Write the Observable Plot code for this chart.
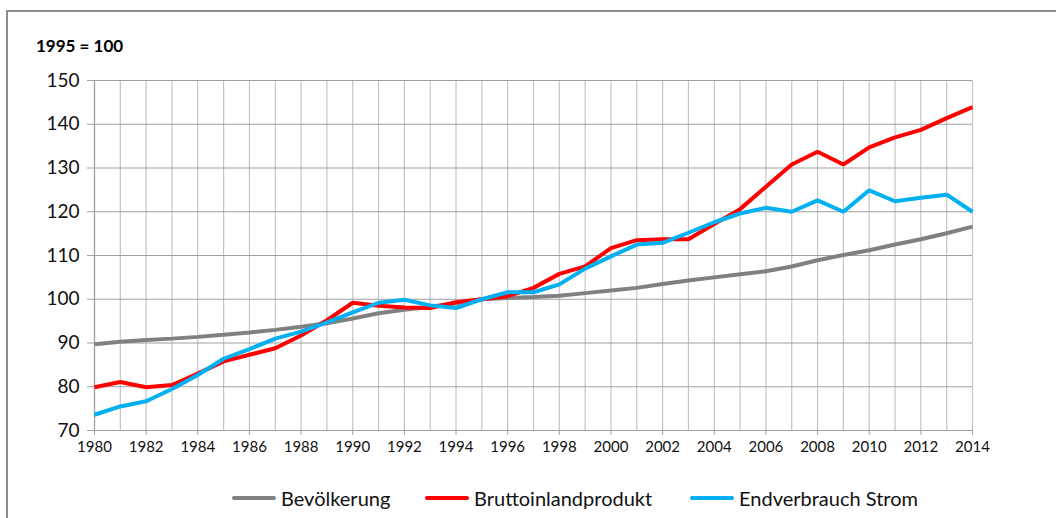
<!DOCTYPE html>
<html>
<head>
<meta charset="utf-8">
<script src="https://cdn.jsdelivr.net/npm/d3@7"></script>
<script src="https://cdn.jsdelivr.net/npm/@observablehq/plot@0.6"></script>
<style>
  html, body { margin: 0; padding: 0; background: #fff; }
  #wrap { position: relative; width: 1056px; height: 518px; overflow: hidden; font-family: Lato, "Open Sans", sans-serif; }
  #frame { position: absolute; left: 6px; top: 10px; width: 1200px; height: 700px; border: 2px solid #8c8c8c; box-sizing: border-box; }
  #title { position: absolute; left: 36px; top: 35px; font-size: 17px; font-weight: bold; color: #000; }
  #chart { position: absolute; left: 0; top: 60px; }
  #legend { position: absolute; top: 486px; left: 0; width: 1056px; height: 26px; font-size: 20px; color: #111; }
  .item { position: absolute; display: flex; align-items: center; }
  .sw { width: 44px; height: 4px; margin-right: 5px; border-radius: 2px; }
</style>
</head>
<body>
<div id="wrap">
  <div id="frame"></div>
  <div id="title">1995 = 100</div>
  <div id="chart"></div>
  <div id="legend"></div>
</div>
<script>
const years = d3.range(1980, 2015);
const yTicks = [70, 80, 90, 100, 110, 120, 130, 140, 150];
const xTicks = d3.range(1980, 2015, 2);
const seriesNames = ["Bevölkerung", "Bruttoinlandprodukt", "Endverbrauch Strom"];
const seriesColors = ["#808080", "#ff0000", "#00b0f0"];

const bevoelkerung = [89.7, 90.3, 90.7, 91.0, 91.4, 91.9, 92.4, 93.0, 93.7, 94.5,
  95.6, 96.8, 97.6, 98.3, 99.1, 100.0, 100.3, 100.5, 100.8, 101.4,
  102.0, 102.6, 103.5, 104.3, 105.0, 105.7, 106.4, 107.5, 108.9, 110.1,
  111.2, 112.5, 113.7, 115.1, 116.6];
const bip = [79.9, 81.1, 79.9, 80.4, 83.0, 85.8, 87.3, 88.8, 91.7, 95.2,
  99.2, 98.5, 98.1, 98.0, 99.3, 100.0, 100.7, 102.6, 105.8, 107.5,
  111.7, 113.5, 113.7, 113.7, 117.2, 120.6, 125.7, 130.8, 133.7, 130.8,
  134.7, 137.0, 138.7, 141.4, 143.9];
const strom = [73.6, 75.5, 76.7, 79.5, 82.7, 86.4, 88.6, 91.0, 92.6, 94.7,
  97.0, 99.2, 99.9, 98.6, 98.0, 100.0, 101.6, 101.6, 103.4, 107.0,
  109.8, 112.5, 112.9, 115.2, 117.6, 119.6, 120.9, 120.0, 122.6, 120.0,
  124.9, 122.4, 123.2, 123.9, 120.0];

const seriesValues = [bevoelkerung, bip, strom];
const data = seriesNames.flatMap((name, i) =>
  years.map((year, j) => ({ series: name, year, value: seriesValues[i][j] })));

const plot = Plot.plot({
  width: 1056,
  height: 410,
  marginTop: 20,
  marginBottom: 40,
  marginLeft: 94,
  marginRight: 84,
  style: { fontFamily: "Lato, 'Open Sans', sans-serif", background: "transparent", color: "#111" },
  x: { type: "linear", domain: [1980, 2014] },
  y: { domain: [70, 150] },
  color: { domain: seriesNames, range: seriesColors },
  marks: [
    Plot.ruleX(years, { x: d => d, stroke: "#c4c4c4", strokeWidth: 1.2, strokeOpacity: 1 }),
    Plot.ruleY(yTicks, { y: d => d, stroke: "#a0a0a0", strokeWidth: 1.2, strokeOpacity: 1 }),
    Plot.ruleX([1980], { stroke: "#a0a0a0", strokeWidth: 1.2 }),
    Plot.axisY({ ticks: yTicks, tickSize: 7, tickPadding: 8, fontSize: 19, stroke: "#a0a0a0", strokeOpacity: 1, label: null, tickFormat: d => String(d) }),
    Plot.axisX({ ticks: xTicks, tickSize: 5, tickPadding: 6, fontSize: 15, stroke: "#a0a0a0", strokeOpacity: 1, label: null, tickFormat: d => String(d) }),
    Plot.line(data, { x: "year", y: "value", z: "series", stroke: "series", strokeWidth: 4, strokeLinejoin: "miter", strokeLinecap: "butt" })
  ]
});
document.getElementById("chart").appendChild(plot);

const legendPos = [232, 425, 690];
const legend = document.getElementById("legend");
seriesNames.forEach((name, i) => {
  const item = document.createElement("div");
  item.className = "item";
  item.style.left = legendPos[i] + "px";
  const sw = document.createElement("div");
  sw.className = "sw";
  sw.style.background = seriesColors[i];
  const label = document.createElement("span");
  label.textContent = name;
  item.appendChild(sw);
  item.appendChild(label);
  legend.appendChild(item);
});
</script>
</body>
</html>
